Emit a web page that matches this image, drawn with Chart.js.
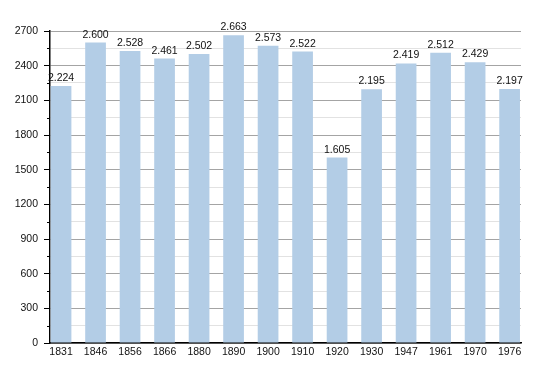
<!DOCTYPE html>
<html>
<head>
<meta charset="utf-8">
<script src="https://cdn.jsdelivr.net/npm/chart.js@4"></script>
<style>
    html, body { margin: 0; padding: 0; background: #fff; }
    #wrap { width: 550px; height: 373px; }
</style>
</head>
<body>
<div id="wrap"><canvas id="popChart" width="550" height="373"></canvas></div>
<script>
// population by census year
const years = ['1831', '1846', '1856', '1866', '1880', '1890', '1900', '1910', '1920', '1930', '1947', '1961', '1970', '1976'];
const population = [2224, 2600, 2528, 2461, 2502, 2663, 2573, 2522, 1605, 2195, 2419, 2512, 2429, 2197];
const yTicks = [0, 300, 600, 900, 1200, 1500, 1800, 2100, 2400, 2700];

const FONT = "'Liberation Sans', Arial, sans-serif";

function formatThousands(v) {
    return String(v).replace(/\B(?=(\d{3})+(?!\d))/g, '.');
}

// value labels above each bar + short minor tick marks on the y axis
const valueLabels = {
    id: 'valueLabels',
    afterDatasetsDraw(chart) {
        const ctx = chart.ctx;
        const meta = chart.getDatasetMeta(0);
        ctx.save();
        ctx.font = '10.5px ' + FONT;
        ctx.fillStyle = '#111';
        ctx.textAlign = 'center';
        ctx.textBaseline = 'alphabetic';
        meta.data.forEach((bar, i) => {
            ctx.fillText(formatThousands(population[i]), bar.x, bar.y - 5);
        });

        const y = chart.scales.y;
        ctx.strokeStyle = '#000';
        ctx.lineWidth = 1;
        y.ticks.forEach((t) => {
            if (yTicks.includes(t.value)) return;
            const py = Math.round(y.getPixelForValue(t.value)) + 0.5;
            ctx.beginPath();
            ctx.moveTo(y.right - 3, py);
            ctx.lineTo(y.right, py);
            ctx.stroke();
        });
        ctx.restore();
    }
};

const ctx = document.getElementById('popChart');
new Chart(ctx, {
    type: 'bar',
    data: {
        datasets: [
            {
                data: population.map((v, i) => ({ x: i, y: v })),
                backgroundColor: '#b3cde6',
                borderWidth: 0,
                barPercentage: 0.6,
                categoryPercentage: 1,
            },
        ],
    },
    options: {
        responsive: false,
        animation: false,
        layout: { padding: { top: 31, right: 29, left: 0, bottom: 0 } },
        plugins: {
            legend: { display: false },
            tooltip: { enabled: false },
        },
        scales: {
            x: {
                type: 'linear',
                offset: false,
                min: -0.32,
                max: 13.33,
                grid: { display: false, drawTicks: false, offset: false },
                border: { display: true, color: '#000', width: 1.5 },
                afterBuildTicks: (scale) => {
                    scale.ticks = years.map((_, i) => ({ value: i }));
                },
                afterFit: (scale) => { scale.height = 30; },
                ticks: {
                    autoSkip: false,
                    maxRotation: 0,
                    padding: 3,
                    color: '#111',
                    font: { family: FONT, size: 10.5 },
                    callback: (value) => years[value] || '',
                },
            },
            y: {
                min: 0,
                max: 2700,
                afterBuildTicks: (scale) => {
                    const t = [];
                    for (let v = 0; v <= 2700; v += 150) t.push({ value: v });
                    scale.ticks = t;
                },
                afterFit: (scale) => { scale.width = 50; },
                grid: {
                    color: (c) => (yTicks.includes(c.tick.value) ? '#a4a4a4' : '#e2e2e2'),
                    tickColor: (c) => (yTicks.includes(c.tick.value) ? '#000' : 'rgba(0,0,0,0)'),
                    tickLength: 6,
                    lineWidth: 1,
                },
                border: { display: true, color: '#000', width: 1.5 },
                ticks: {
                    autoSkip: false,
                    padding: 6,
                    color: '#111',
                    font: { family: FONT, size: 10.5 },
                    callback: (value) => (yTicks.includes(value) ? value : ''),
                },
            },
        },
    },
    plugins: [valueLabels],
});
</script>
</body>
</html>
